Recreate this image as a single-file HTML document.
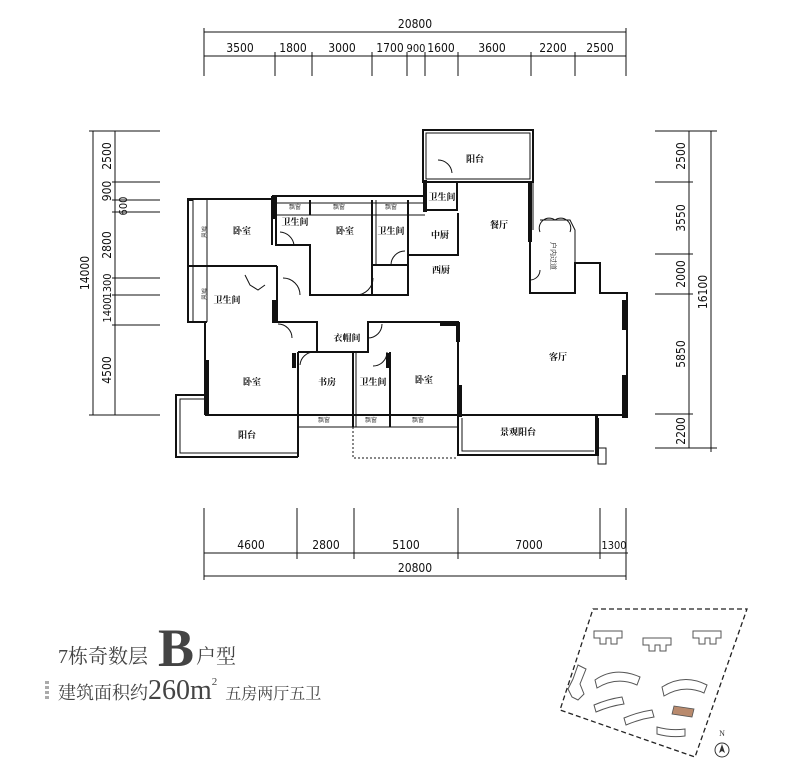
<!DOCTYPE html>
<html><head><meta charset="utf-8"><style>
html,body{margin:0;padding:0;background:#fff;}
svg{display:block;}
.d{font-family:"DejaVu Sans Condensed","Liberation Sans",sans-serif;font-size:12px;fill:#111;}
.l{font-family:"Liberation Serif","Noto Serif CJK SC",serif;font-size:9px;font-weight:bold;fill:#111;}
.s{font-family:"Liberation Sans","Noto Sans CJK SC",sans-serif;font-size:6px;fill:#444;}
</style></head><body>
<svg width="800" height="779" viewBox="0 0 800 779" xmlns="http://www.w3.org/2000/svg">
<g stroke="#111" stroke-width="1" fill="none">
<line x1="204" y1="32" x2="626" y2="32"/>
<line x1="204" y1="56" x2="626" y2="56"/>
<line x1="204" y1="28" x2="204" y2="76"/><line x1="626" y1="28" x2="626" y2="76"/>
<line x1="275" y1="52" x2="275" y2="76"/><line x1="312" y1="52" x2="312" y2="76"/><line x1="372" y1="52" x2="372" y2="76"/><line x1="407" y1="52" x2="407" y2="76"/><line x1="425" y1="52" x2="425" y2="76"/><line x1="458" y1="52" x2="458" y2="76"/><line x1="531" y1="52" x2="531" y2="76"/><line x1="575" y1="52" x2="575" y2="76"/>
<line x1="93" y1="131" x2="93" y2="415"/><line x1="115" y1="131" x2="115" y2="415"/>
<line x1="89" y1="131" x2="160" y2="131"/><line x1="89" y1="415" x2="160" y2="415"/>
<line x1="112" y1="182" x2="160" y2="182"/><line x1="112" y1="200" x2="160" y2="200"/><line x1="112" y1="212" x2="160" y2="212"/><line x1="112" y1="278" x2="160" y2="278"/><line x1="112" y1="295" x2="160" y2="295"/><line x1="112" y1="325" x2="160" y2="325"/>
<line x1="689" y1="131" x2="689" y2="448"/><line x1="711" y1="131" x2="711" y2="452"/>
<line x1="655" y1="131" x2="717" y2="131"/><line x1="655" y1="448" x2="717" y2="448"/>
<line x1="655" y1="182" x2="693" y2="182"/><line x1="655" y1="254" x2="693" y2="254"/><line x1="655" y1="294" x2="693" y2="294"/><line x1="655" y1="414" x2="693" y2="414"/>
<line x1="204" y1="553" x2="628" y2="553"/><line x1="204" y1="576" x2="626" y2="576"/>
<line x1="204" y1="508" x2="204" y2="580"/><line x1="626" y1="508" x2="626" y2="580"/>
<line x1="297" y1="508" x2="297" y2="559"/><line x1="354" y1="508" x2="354" y2="559"/><line x1="458" y1="508" x2="458" y2="559"/><line x1="600" y1="508" x2="600" y2="559"/>
</g>
<g class="d" text-anchor="middle">
<text x="415" y="28">20800</text>
<text x="240" y="52">3500</text><text x="293" y="52">1800</text><text x="342" y="52">3000</text><text x="390" y="52">1700</text><text x="416" y="52" font-size="11">900</text><text x="441" y="52">1600</text><text x="492" y="52">3600</text><text x="553" y="52">2200</text><text x="600" y="52">2500</text>
<text x="251" y="549">4600</text><text x="326" y="549">2800</text><text x="406" y="549">5100</text><text x="529" y="549">7000</text><text x="614" y="549" font-size="11">1300</text>
<text x="415" y="572">20800</text>
</g>
<g class="d" text-anchor="middle">
<text transform="translate(111,156) rotate(-90)">2500</text>
<text transform="translate(111,191) rotate(-90)">900</text>
<text transform="translate(127,206) rotate(-90)" font-size="11">600</text>
<text transform="translate(111,245) rotate(-90)">2800</text>
<text transform="translate(111,286) rotate(-90)" font-size="11">1300</text>
<text transform="translate(111,310) rotate(-90)" font-size="11">1400</text>
<text transform="translate(111,370) rotate(-90)">4500</text>
<text transform="translate(89,273) rotate(-90)">14000</text>
<text transform="translate(685,156) rotate(-90)">2500</text>
<text transform="translate(685,218) rotate(-90)">3550</text>
<text transform="translate(685,274) rotate(-90)">2000</text>
<text transform="translate(685,354) rotate(-90)">5850</text>
<text transform="translate(685,431) rotate(-90)">2200</text>
<text transform="translate(707,292) rotate(-90)">16100</text>
</g>
<g stroke="#111" fill="none" stroke-width="2">
<rect x="423" y="130" width="110" height="52"/>
<rect x="426" y="133" width="104" height="46" stroke-width="1"/>
<polyline points="272,199 188,199 188,322 207,322"/>
<line x1="193" y1="199" x2="193" y2="322" stroke-width="1"/>
<line x1="207" y1="199" x2="207" y2="322" stroke-width="1"/>
<line x1="188" y1="266" x2="277" y2="266"/>
<line x1="277" y1="266" x2="277" y2="322"/>
<polyline points="272,196 423,196"/>
<line x1="272" y1="203" x2="425" y2="203" stroke-width="1"/>
<line x1="272" y1="215" x2="425" y2="215" stroke-width="1"/>
<line x1="272" y1="196" x2="272" y2="245"/>
<polyline points="276,215 276,245 310,245 310,295 372,295"/>
<line x1="310" y1="200" x2="310" y2="215"/>
<line x1="372" y1="200" x2="372" y2="295"/>
<line x1="376" y1="200" x2="376" y2="265" stroke-width="1"/>
<polyline points="372,265 408,265 408,295 372,295"/>
<line x1="408" y1="200" x2="408" y2="295"/>
<line x1="425" y1="182" x2="425" y2="210"/>
<polyline points="425,210 457,210 457,182"/>
<polyline points="408,255 458,255 458,213"/>
<polyline points="530,182 530,293 575,293 575,263 600,263 600,293 627,293 627,418"/>
<line x1="533" y1="182" x2="533" y2="230" stroke-width="1"/>
<polyline points="540,220 570,220 575,230 575,263" stroke-width="1"/>
<polyline points="277,322 317,322 317,352 368,352 368,322 458,322 458,415"/>
<line x1="205" y1="322" x2="205" y2="415"/>
<line x1="205" y1="415" x2="627" y2="415"/>
<line x1="298" y1="427" x2="458" y2="427" stroke-width="1"/>
<line x1="298" y1="352" x2="298" y2="457"/>
<line x1="298" y1="352" x2="353" y2="352"/>
<line x1="353" y1="352" x2="353" y2="427"/>
<line x1="356" y1="352" x2="356" y2="427" stroke-width="1"/>
<line x1="390" y1="352" x2="390" y2="427"/>
<polyline points="205,395 176,395 176,457 298,457"/>
<polyline points="205,399 180,399 180,453 298,453" stroke-width="1"/>
<polyline points="353,427 353,458 457,458" stroke-dasharray="2,2" stroke-width="1"/>
<polyline points="458,415 458,455 598,455 598,418"/>
<polyline points="462,418 462,451 594,451" stroke-width="1"/>
<rect x="598" y="448" width="8" height="16" stroke-width="1"/>
<g stroke-width="1">
<path d="M294,245 A15,15 0 0 0 280,232"/>
<path d="M300,295 A17,17 0 0 0 283,278"/>
<path d="M356,295 A17,17 0 0 0 373,278"/>
<path d="M391,265 A14,14 0 0 1 405,251"/>
<path d="M292,338 A14,14 0 0 0 278,324"/>
<path d="M300,365 A14,14 0 0 1 314,352"/>
<path d="M368,338 A14,14 0 0 0 382,324"/>
<path d="M373,366 A14,14 0 0 0 387,352"/>
<path d="M452,173 A14,14 0 0 0 438,160"/>
<path d="M540,232 A10,10 0 0 1 555,220 A10,10 0 0 1 570,232"/>
<path d="M540,270 A10,10 0 0 1 530,280"/>
<path d="M245,275 L250,285 L258,290 L265,285"/>
</g>
</g>
<g fill="#111">
<rect x="188" y="198" width="5" height="3"/><rect x="272" y="195" width="5" height="24"/><rect x="423" y="180" width="4" height="32"/>
<rect x="205" y="360" width="4" height="56"/><rect x="292" y="353" width="4" height="15"/><rect x="386" y="353" width="4" height="15"/>
<rect x="440" y="322" width="18" height="4"/><rect x="456" y="322" width="4" height="20"/><rect x="458" y="385" width="4" height="32"/>
<rect x="622" y="300" width="5" height="30"/><rect x="622" y="375" width="5" height="43"/><rect x="528" y="182" width="4" height="60"/>
<rect x="272" y="300" width="5" height="23"/><rect x="595" y="415" width="3" height="40"/>
</g>
<g class="l" text-anchor="middle">
<text x="475" y="162">阳台</text>
<text x="442" y="200">卫生间</text>
<text x="242" y="234">卧室</text>
<text x="295" y="225">卫生间</text>
<text x="345" y="234">卧室</text>
<text x="391" y="234">卫生间</text>
<text x="440" y="238">中厨</text>
<text x="499" y="228">餐厅</text>
<text x="441" y="273">西厨</text>
<text x="227" y="303">卫生间</text>
<text x="347" y="341">衣帽间</text>
<text x="558" y="360">客厅</text>
<text x="252" y="385">卧室</text>
<text x="327" y="385">书房</text>
<text x="373" y="385">卫生间</text>
<text x="424" y="383">卧室</text>
<text x="247" y="438">阳台</text>
<text x="518" y="435">景观阳台</text>
</g>
<g class="s" text-anchor="middle">
<text x="295" y="209">飘窗</text><text x="339" y="209">飘窗</text><text x="391" y="209">飘窗</text>
<text x="324" y="422">飘窗</text><text x="371" y="422">飘窗</text><text x="418" y="422">飘窗</text>
<text transform="translate(202,232) rotate(90)">飘窗</text>
<text transform="translate(202,294) rotate(90)">飘窗</text>
<text transform="translate(551,256) rotate(90)" font-size="7">户内过道</text>
</g>
<text x="58" y="663" style="font-family:'Liberation Serif','Noto Serif CJK SC',serif;font-size:20px;fill:#444">7栋奇数层</text>
<text x="158" y="666" style="font-family:'Liberation Serif',serif;font-size:54px;font-weight:bold;fill:#444">B</text>
<text x="196" y="663" style="font-family:'Liberation Serif','Noto Serif CJK SC',serif;font-size:20px;fill:#444">户型</text>
<g fill="#aaa"><rect x="45" y="681" width="4" height="3"/><rect x="45" y="686" width="4" height="3"/><rect x="45" y="691" width="4" height="3"/><rect x="45" y="696" width="4" height="3"/></g>
<text x="58" y="699" style="font-family:'Liberation Serif','Noto Serif CJK SC',serif;font-size:18px;fill:#444">建筑面积约<tspan font-size="28">260m</tspan><tspan font-size="11" dy="-14">2</tspan><tspan dy="14" dx="8" font-size="16">五房两厅五卫</tspan></text>
<polygon points="593,609 747,609 695,757 560,710" fill="none" stroke="#222" stroke-width="1.3" stroke-dasharray="5,3"/>
<g fill="none" stroke="#555" stroke-width="1">
<path d="M594,631 h28 v7 h-5 v6 h-6 v-6 h-5 v6 h-6 v-6 h-6 z"/>
<path d="M643,638 h28 v7 h-5 v6 h-6 v-6 h-5 v6 h-6 v-6 h-6 z"/>
<path d="M693,631 h28 v7 h-5 v6 h-6 v-6 h-5 v6 h-6 v-6 h-6 z"/>
<path d="M578,665 l8,4 -6,15 4,10 -6,6 -6,-3 -4,-8 5,-10 z"/>
<path d="M595,680 q20,-14 45,-3 l-3,8 q-20,-9 -40,3 z"/>
<path d="M662,687 q22,-14 45,-2 l-3,8 q-20,-9 -40,3 z"/>
<path d="M594,705 q14,-6 28,-8 l2,7 q-14,2 -28,8 z"/>
<path d="M624,718 q14,-6 28,-8 l2,7 q-14,2 -28,8 z"/>
<path d="M657,727 q14,4 28,2 l0,7 q-14,2 -28,-2 z"/>
</g>
<path d="M674,706 l20,3 l-2,8 l-20,-3 z" fill="#b98a6d" stroke="#555" stroke-width="0.8"/>
<text x="722" y="736" text-anchor="middle" style="font-family:'Liberation Serif',serif;font-size:8px;fill:#333">N</text>
<circle cx="722" cy="750" r="7" fill="none" stroke="#333" stroke-width="1"/>
<path d="M722,744 l-3,9 l3,-2 l3,2 z" fill="#333"/>
</svg>
</body></html>
